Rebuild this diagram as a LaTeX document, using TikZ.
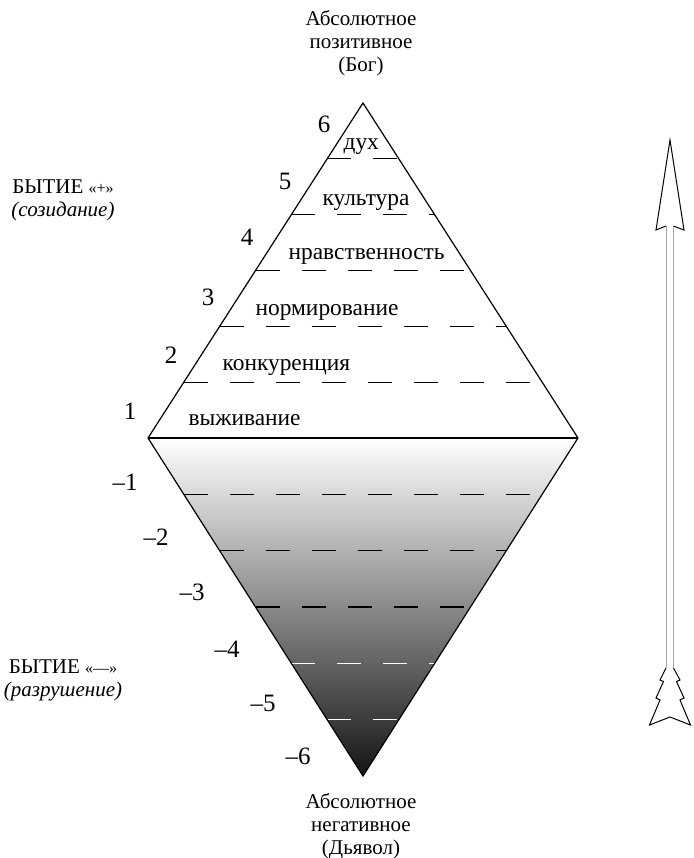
\documentclass[tikz,border=0pt]{standalone}
\usepackage{fontspec}
\setmainfont{Liberation Serif}
\usetikzlibrary{calc}

\begin{document}
\begin{tikzpicture}[x=0.5pt,y=-0.5pt,line width=0.6pt,
  lvl/.style={dash pattern=on 12pt off 11pt},
  band/.style={font=\fontsize{11.7}{13}\selectfont,anchor=base west,inner sep=0pt},
  num/.style={font=\fontsize{12.5}{14}\selectfont,inner sep=0pt},
  caption/.style={align=center,font=\fontsize{10.5}{11.5}\selectfont,inner sep=0pt}]
\useasboundingbox (0,0) rectangle (693,858);
\coordinate (top) at (363,103);
\coordinate (left) at (148,438);
\coordinate (right) at (578,438);
\coordinate (bot) at (363,776);
% lower half
\shade[top color=white,middle color=black!40,bottom color=black!92] (left) -- (right) -- (bot) -- cycle;
\foreach \k in {1,...,5}{
  \draw[lvl] ($(left)!\k/6!(top)$) -- ($(right)!\k/6!(top)$);
}
\foreach \k/\c in {1/black,2/black,3/black,4/white,5/white}{
  \draw[lvl,\c] ($(left)!\k/6!(bot)$) -- ($(right)!\k/6!(bot)$);
}
\draw (top) -- (right) -- (bot) -- (left) -- cycle;
\draw (left) -- (right);
% levels
\node[band] (l1) at (188,425) {выживание};
\node[band] (l2) at (222,370) {конкуренция};
\node[band] (l3) at (255,315) {нормирование};
\node[band] (l4) at (288,259) {нравственность};
\node[band] (l5) at (322,205) {культура};
\node[band] (l6) at (343,149) {дух};
\node[num] (p1) at (130,411) {1};
\node[num] (p2) at (171,355) {2};
\node[num] (p3) at (208,297) {3};
\node[num] (p4) at (247,237) {4};
\node[num] (p5) at (285,181) {5};
\node[num] (p6) at (324,124) {6};
\node[num] (m1) at (125,482) {–1};
\node[num] (m2) at (156,537) {–2};
\node[num] (m3) at (192,592) {–3};
\node[num] (m4) at (227,649) {–4};
\node[num] (m5) at (263,703) {–5};
\node[num] (m6) at (298,756) {–6};
% captions
\node[caption] (pos) at (361,43) {Абсолютное\\позитивное\\(Бог)};
\node[caption] (neg) at (361,826) {Абсолютное\\негативное\\(Дьявол)};
\node[caption] (plus) at (63,200) {БЫТИЕ {\footnotesize«+»}\\\textit{(созидание)}};
\node[caption] (minus) at (63,680) {БЫТИЕ {\footnotesize«—»}\\\textit{(разрушение)}};
% arrow
\draw[gray!70,line width=0.5pt] (666,226) -- (666,668) (673.5,226) -- (673.5,668);
\draw[line width=0.5pt] (666,226) -- (656,230) -- (670,140) -- (684,230) -- (673.5,226);
\draw[line width=0.5pt] (666,668) -- (660,680) -- (663.5,681.5) -- (656,698) -- (660,700)
  -- (649.5,725) -- (670,717) -- (690.5,725) -- (680,700) -- (684,698) -- (676.5,681.5)
  -- (680,680) -- (673.5,668);
\end{tikzpicture}
\end{document}
